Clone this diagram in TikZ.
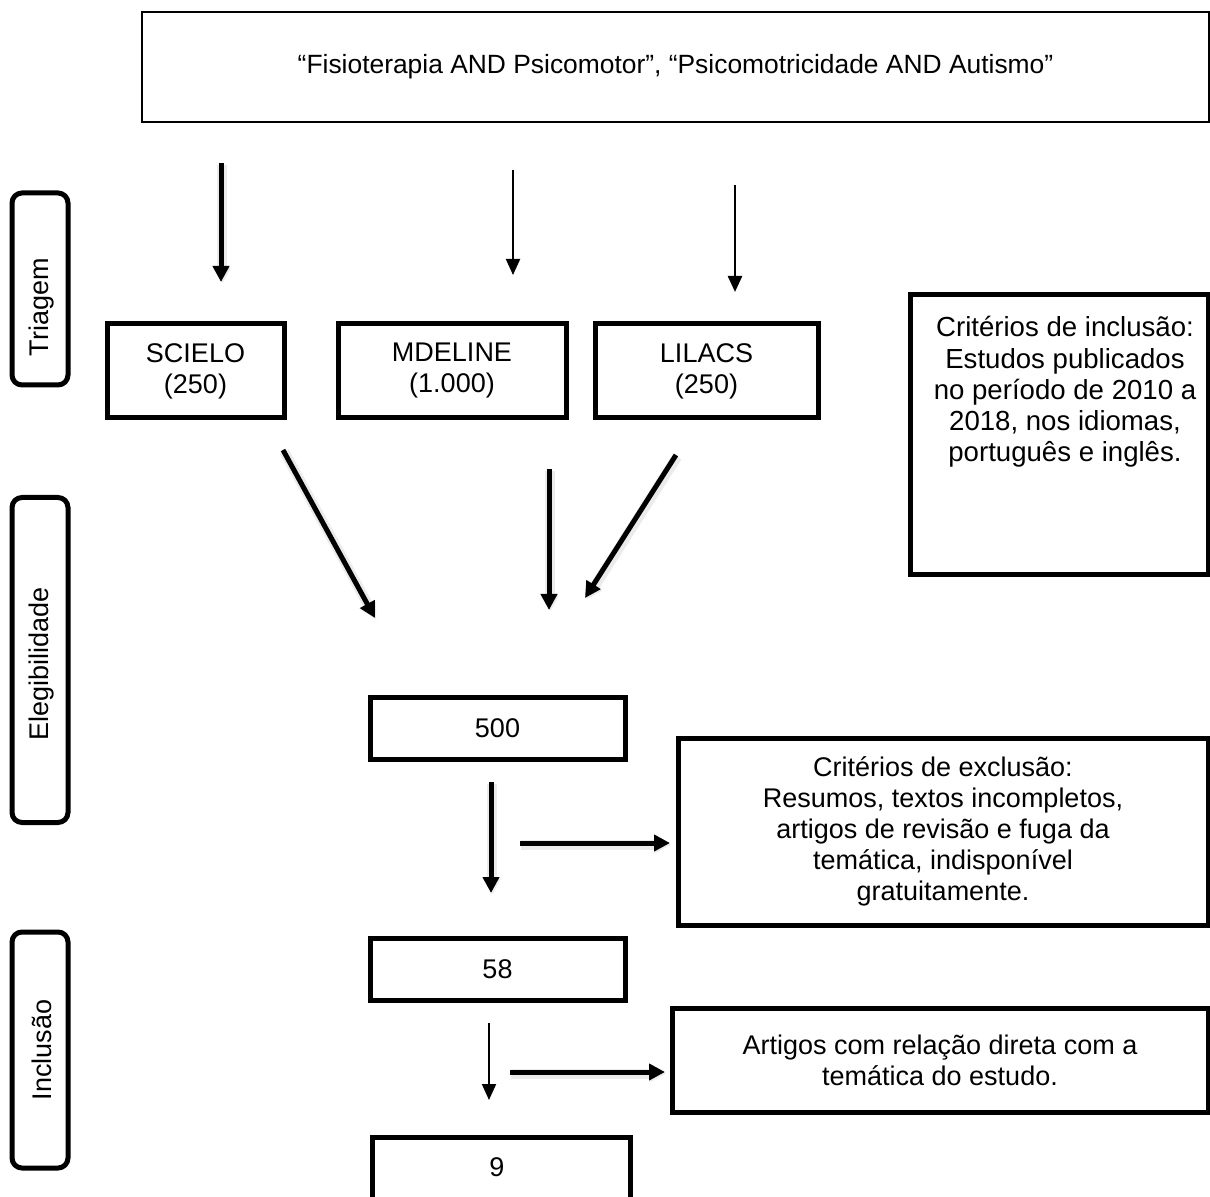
\documentclass[tikz,border=0pt]{standalone}
\usepackage{fontspec}
\setmainfont{Liberation Sans}
\usetikzlibrary{arrows.meta}
\begin{document}
\begin{tikzpicture}[x=0.5pt,y=-0.5pt,
  every node/.style={font=\fontsize{13.5}{15.5}\selectfont, inner sep=0pt, align=center},
  box/.style={draw, line width=2.5pt, rectangle},
  phase/.style={draw, line width=2.5pt, rounded corners=5pt, minimum width=28pt},
  thickarrow/.style={line width=2.5pt, -{Triangle[length=8pt,width=8pt]},
    preaction={draw=black!8, line width=5pt, transform canvas={xshift=0.6pt,yshift=-0.8pt}}},
  thinarrow/.style={line width=1pt, -{Triangle[length=8pt,width=7pt]}}]
\useasboundingbox (0,0) rectangle (1210,1197);
\clip (0,0) rectangle (1210,1197);
\fill[white] (0,0) rectangle (1210,1197);

% top query box
\node[box, line width=1.4pt, minimum width=533.5pt, minimum height=55pt,
  font=\fontsize{13.2}{15.5}\selectfont] (query) at (675.5,67)
  {“Fisioterapia AND Psicomotor”, “Psicomotricidade AND Autismo”};

% phase boxes
\node[phase, minimum height=96pt] (triagem) at (40,289) {};
\node[rotate=90] (triagemtxt) at (42,307) {Triagem};
\node[phase, minimum height=162.5pt] (eleg) at (40,660) {};
\node[rotate=90] (elegtxt) at (42,664) {Elegibilidade};
\node[phase, minimum height=118pt] (incl) at (40,1050) {};
\node[rotate=90] (incltxt) at (42,1050) {Inclusão};

% databases
\node[box, minimum width=88.5pt, minimum height=47pt] (scielo) at (195.5,371) {SCIELO\\(250)};
\node[box, minimum width=114pt, minimum height=47pt] (mdeline) at (452,371) {MDELINE\\(1.000)};
\node[box, minimum width=111.5pt, minimum height=47pt] (lilacs) at (706.5,371) {LILACS\\(250)};

% inclusion criteria
\node[box, minimum width=149pt, minimum height=140pt] (inc) at (1059,435) {};
\node[font=\fontsize{13.8}{15.6}\selectfont] (inctxt) at (1065,392) {Critérios de inclusão:\\Estudos publicados\\no período de 2010 a\\2018, nos idiomas,\\português e inglês.};

% counts
\node[box, minimum width=127.5pt, minimum height=31pt] (n500) at (497.5,728) {500};
\node[box, minimum width=265pt, minimum height=93.5pt] (exc) at (943,831.5)
  {Critérios de exclusão:\\Resumos, textos incompletos,\\artigos de revisão e fuga da\\temática, indisponível\\gratuitamente.};
\node[box, minimum width=127.5pt, minimum height=31pt] (n58) at (497.5,969) {58};
\node[box, minimum width=268pt, minimum height=52pt] (art) at (940,1060)
  {Artigos com relação direta com a\\temática do estudo.};
\node[box, minimum width=129pt, minimum height=33pt] (n9) at (501,1170) {};
\node (n9txt) at (497,1167) {9};

% arrow end points
\coordinate (a1s) at (221,163); \coordinate (a1e) at (221,282);
\coordinate (a2s) at (513,170); \coordinate (a2e) at (513,275);
\coordinate (a3s) at (735,185); \coordinate (a3e) at (735,292);
\coordinate (d1s) at (283,450); \coordinate (d1e) at (375,618);
\coordinate (d2s) at (549,469); \coordinate (d2e) at (549,610);
\coordinate (d3s) at (676,455); \coordinate (d3e) at (585,598);
\coordinate (e1s) at (491,782); \coordinate (e1e) at (491,893);
\coordinate (e2s) at (520,843); \coordinate (e2e) at (670,843);
\coordinate (f1s) at (489,1023); \coordinate (f1e) at (489,1100);
\coordinate (f2s) at (510,1072); \coordinate (f2e) at (665,1072);

\draw[thickarrow] (a1s) -- (a1e);
\draw[thinarrow] (a2s) -- (a2e);
\draw[thinarrow, line width=1.25pt] (a3s) -- (a3e);
\draw[thickarrow] (d1s) -- (d1e);
\draw[thickarrow] (d2s) -- (d2e);
\draw[thickarrow] (d3s) -- (d3e);
\draw[thickarrow] (e1s) -- (e1e);
\draw[thickarrow] (e2s) -- (e2e);
\draw[thinarrow] (f1s) -- (f1e);
\draw[thickarrow] (f2s) -- (f2e);
\end{tikzpicture}
\end{document}
